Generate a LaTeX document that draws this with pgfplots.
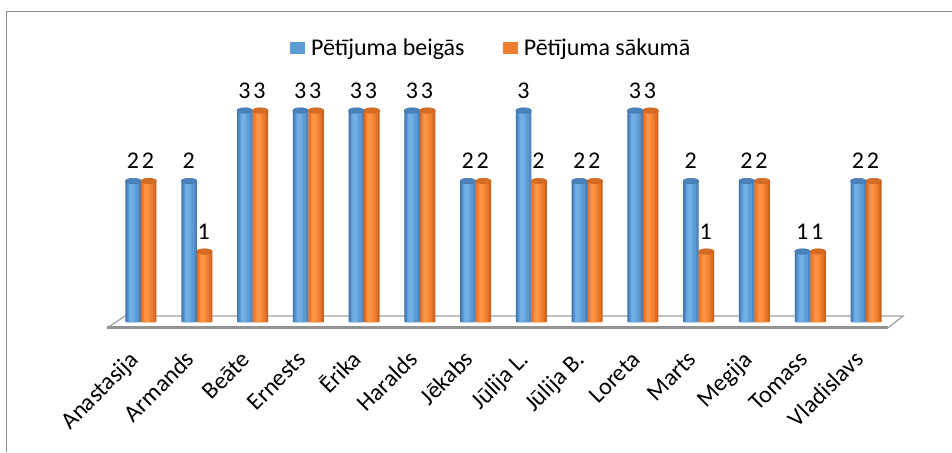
\documentclass[border=0pt]{standalone}
\usepackage{pgfplots}
\usepackage{pgfplotstable}
\pgfplotsset{compat=1.18}
\usepackage{fontspec}
\setmainfont{Carlito}
\definecolor{bflat}{HTML}{5B9BD5}
\definecolor{bA}{HTML}{3F72A8}
\definecolor{bB}{HTML}{4F88C2}
\definecolor{bC}{HTML}{5D9AD4}
\definecolor{bD}{HTML}{69A6E0}
\definecolor{bE}{HTML}{72AFE8}
\definecolor{bcap}{HTML}{4C82BC}
\definecolor{oflat}{HTML}{ED7D31}
\definecolor{oA}{HTML}{C8621F}
\definecolor{oB}{HTML}{DE7028}
\definecolor{oC}{HTML}{F07E30}
\definecolor{oD}{HTML}{FA8A3A}
\definecolor{oE}{HTML}{FE9444}
\definecolor{ocap}{HTML}{D56C25}
\definecolor{frame}{HTML}{8C8C8C}
\pgfplotstableread{
x b s
0 2 2
1 2 1
2 3 3
3 3 3
4 3 3
5 3 3
6 2 2
7 3 2
8 2 2
9 3 3
10 2 1
11 2 2
12 1 1
13 2 2
}\datatab
\begin{document}
\begin{tikzpicture}[x=1pt,y=1pt]
\useasboundingbox (0,0) rectangle (952,452);
\draw[frame,line width=1.5pt] (6.5,0) -- (6.5,440.5) -- (952,440.5);
% floor
\fill[white] (107,124) -- (125,136) -- (903,136) -- (888,124) -- cycle;
\draw[gray!75,line width=1.2pt] (107,124) -- (125,136) -- (903,136) -- (888,124);
\draw[gray!85,line width=2.5pt] (107,124.5) -- (888,124.5);
\begin{axis}[
  at={(113.1pt,130pt)}, anchor=south west,
  scale only axis, width=780.8pt, height=246.75pt,
  xmin=-0.5, xmax=13.5, ymin=0, ymax=3.5,
  axis line style={draw=none}, tick style={draw=none},
  ytick=\empty,
  xtick={0,...,13},
  xticklabels={Anastasija,Armands,Beāte,Ernests,Ērika,Haralds,Jēkabs,Jūlija L.,Jūlija B.,Loreta,Marts,Megija,Tomass,Vladislavs},
  xticklabel style={font=\fontsize{24}{28}\selectfont, xshift=-1pt, yshift=-39pt, rotate=45, anchor=base east, inner sep=0pt},
  /pgf/number format/assume math mode=true,
  clip=false,
  legend columns=2,
  legend style={draw=none, fill=none, at={(0.4834,1.110)}, anchor=center,
    font=\fontsize{24}{28}\selectfont,
    nodes={inner sep=0.5pt},
    /tikz/every even column/.append style={column sep=38pt},
    /tikz/every odd column/.append style={column sep=6pt},
    inner sep=0pt},
  legend image code/.code={\fill[#1] (0pt,-5.5pt) rectangle (14pt,5.5pt);},
  lab/.style={nodes near coords, every node near coord/.append style={font=\fontsize{24}{28}\selectfont, inner sep=0pt, yshift=12pt, xshift=#1, text=black}},
]
% blue cylinders (layered for shading)
\addplot[forget plot, ybar, draw=none, fill=bA, bar width=15.5pt, bar shift=-7.75pt, lab=-8pt] table[x=x,y=b] {\datatab};
\addplot[forget plot, ybar, draw=none, fill=bB, bar width=13.8pt, bar shift=-7.4pt] table[x=x,y=b] {\datatab};
\addplot[forget plot, ybar, draw=none, fill=bC, bar width=10.5pt, bar shift=-7.75pt] table[x=x,y=b] {\datatab};
\addplot[forget plot, ybar, draw=none, fill=bD, bar width=6.5pt, bar shift=-8.75pt] table[x=x,y=b] {\datatab};
\addplot[forget plot, ybar, draw=none, fill=bE, bar width=3.5pt, bar shift=-9.25pt] table[x=x,y=b] {\datatab};
% orange cylinders
\addplot[forget plot, ybar, draw=none, fill=oA, bar width=15.5pt, bar shift=7.75pt, lab=7pt] table[x=x,y=s] {\datatab};
\addplot[forget plot, ybar, draw=none, fill=oB, bar width=13.5pt, bar shift=7.25pt] table[x=x,y=s] {\datatab};
\addplot[forget plot, ybar, draw=none, fill=oC, bar width=10.5pt, bar shift=6.75pt] table[x=x,y=s] {\datatab};
\addplot[forget plot, ybar, draw=none, fill=oD, bar width=6.5pt, bar shift=6.25pt] table[x=x,y=s] {\datatab};
\addplot[forget plot, ybar, draw=none, fill=oE, bar width=3.5pt, bar shift=5.75pt] table[x=x,y=s] {\datatab};
% cylinder caps
\addplot[forget plot, only marks, mark=*, mark size=7.75pt, mark options={yscale=0.35, fill=bcap, draw=bA, line width=0.5pt}]
  table[x expr=\thisrow{x}-0.139, y=b] {\datatab};
\addplot[forget plot, only marks, mark=*, mark size=7.75pt, mark options={yscale=0.35, fill=ocap, draw=oA, line width=0.5pt}]
  table[x expr=\thisrow{x}+0.139, y=s] {\datatab};
\addlegendimage{bflat}
\addlegendentry{Pētījuma beigās}
\addlegendimage{oflat}
\addlegendentry{Pētījuma sākumā}
\end{axis}
\end{tikzpicture}
\end{document}
